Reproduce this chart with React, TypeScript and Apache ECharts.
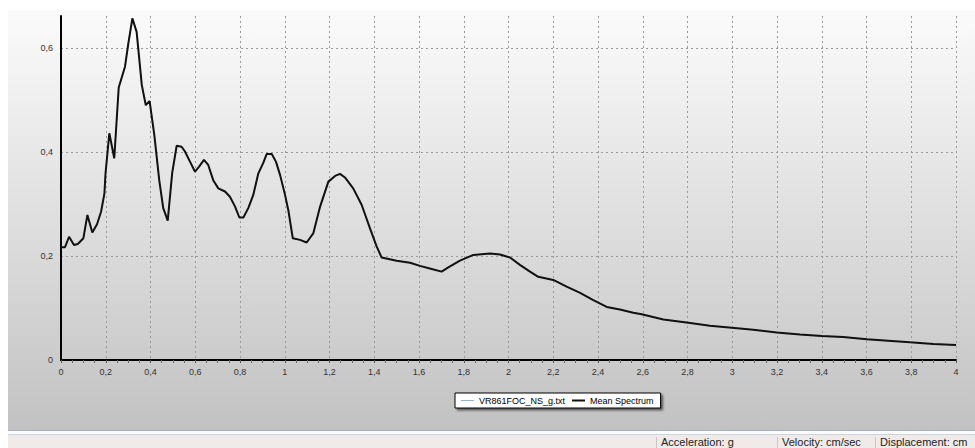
import React, { useEffect, useRef } from "react";
import * as echarts from "echarts";

// Period (s) sampled along the curve
const periods = [
  0, 0.018, 0.036, 0.058, 0.075, 0.1, 0.118, 0.14, 0.161, 0.179, 0.194, 0.199,
  0.216, 0.238, 0.258, 0.286, 0.301, 0.319, 0.338, 0.361, 0.379, 0.396, 0.417,
  0.439, 0.457, 0.477, 0.497, 0.517, 0.539, 0.554, 0.577, 0.599, 0.617, 0.639,
  0.658, 0.681, 0.703, 0.733, 0.755, 0.778, 0.797, 0.815, 0.837, 0.859, 0.882,
  0.904, 0.919, 0.942, 0.961, 0.979, 1.001, 1.016, 1.036, 1.068, 1.098, 1.128,
  1.158, 1.195, 1.225, 1.247, 1.269, 1.306, 1.344, 1.381, 1.411, 1.433, 1.5,
  1.56, 1.604, 1.657, 1.701, 1.731, 1.783, 1.843, 1.917, 1.962, 2.007, 2.051,
  2.096, 2.133, 2.2, 2.26, 2.32, 2.379, 2.439, 2.498, 2.558, 2.595, 2.692,
  2.796, 2.9, 2.998, 3.094, 3.199, 3.303, 3.4, 3.496, 3.601, 3.697, 3.794,
  3.899, 4.0,
];

// Mean spectrum acceleration (g)
const meanSpectrum = [
  0.217, 0.217, 0.237, 0.221, 0.223, 0.234, 0.279, 0.245, 0.261, 0.285, 0.32,
  0.359, 0.436, 0.388, 0.524, 0.564, 0.609, 0.657, 0.631, 0.529, 0.49, 0.498,
  0.433, 0.346, 0.292, 0.268, 0.36, 0.412, 0.41, 0.401, 0.381, 0.362, 0.372,
  0.385, 0.375, 0.345, 0.33, 0.324, 0.314, 0.295, 0.274, 0.274, 0.292, 0.317,
  0.359, 0.379, 0.396, 0.396, 0.381, 0.356, 0.318, 0.288, 0.234, 0.231, 0.226,
  0.244, 0.295, 0.343, 0.354, 0.358, 0.351, 0.33, 0.298, 0.253, 0.218, 0.197,
  0.191, 0.187, 0.181, 0.175, 0.17, 0.178, 0.191, 0.202, 0.205, 0.203, 0.197,
  0.183, 0.17, 0.16, 0.154, 0.141, 0.129, 0.115, 0.102, 0.097, 0.091, 0.088,
  0.078, 0.072, 0.066, 0.062, 0.058, 0.053, 0.049, 0.046, 0.044, 0.04, 0.037,
  0.034, 0.031, 0.029,
];

// Single record (drawn beneath the mean, identical here)
const recordSpectrum = meanSpectrum.slice();

const seriesNames = ["VR861FOC_NS_g.txt", "Mean Spectrum"];
const statusTexts = ["Acceleration: g", "Velocity: cm/sec", "Displacement: cm"];

const fmt = (v: number) => String(+v.toFixed(1)).replace(".", ",");

export default function App() {
  const ref = useRef<HTMLDivElement>(null);

  useEffect(() => {
    if (!ref.current) return;
    const chart = echarts.init(ref.current, undefined, { renderer: "svg" });
    const toPairs = (ys: number[]) => periods.map((x, i) => [x, ys[i]]);
    const statusX = [661, 782, 880];
    const sepX = [656.5, 777.5, 875.5];

    chart.setOption({
      animation: false,
      backgroundColor: "#ffffff",
      textStyle: { fontFamily: "Liberation Sans, Arial, sans-serif" },
      grid: { left: 61, right: 19, top: 16, bottom: 88, containLabel: false },
      legend: {
        left: 455,
        top: 393,
        data: [
          { name: seriesNames[0], icon: "path://M0,0h13v1h-13z" },
          { name: seriesNames[1], icon: "path://M0,0h13v2h-13z" },
        ],
        symbolKeepAspect: true,
        itemWidth: 13,
        itemHeight: 8,
        itemGap: 7,
        padding: [3, 7, 3, 6],
        backgroundColor: "#ffffff",
        borderColor: "#000000",
        borderWidth: 1,
        borderRadius: 0,
        shadowColor: "rgba(0,0,0,0.55)",
        shadowBlur: 2,
        shadowOffsetX: 2,
        shadowOffsetY: 2,
        textStyle: {
          fontSize: 9,
          color: "#000",
          fontFamily: "Liberation Sans, Arial, sans-serif",
        },
      },
      xAxis: {
        type: "value",
        min: 0,
        max: 4,
        interval: 0.2,
        axisLine: { show: true, lineStyle: { color: "#000", width: 2 } },
        axisTick: { show: true, length: 3, lineStyle: { color: "#555" } },
        minorTick: { show: true, splitNumber: 4, length: 3, lineStyle: { color: "#666" } },
        axisLabel: {
          formatter: fmt,
          fontSize: 9,
          color: "#333",
          margin: 7,
        },
        splitLine: {
          show: true,
          lineStyle: { color: "#9a9a9a", type: [2, 3], width: 1 },
        },
      },
      yAxis: {
        type: "value",
        min: 0,
        max: 0.6615,
        interval: 0.2,
        offset: 2,
        axisLine: { show: true, lineStyle: { color: "#000", width: 2 } },
        axisTick: { show: false },
        axisLabel: {
          formatter: fmt,
          fontSize: 9,
          color: "#333",
          margin: 6,
          showMaxLabel: false,
        },
        splitLine: {
          show: true,
          showMaxLine: false,
          lineStyle: { color: "#9a9a9a", type: [2, 3], width: 1 },
        },
      },
      series: [
        {
          name: seriesNames[0],
          type: "line",
          data: toPairs(recordSpectrum),
          symbol: "none",
          lineStyle: { color: "#8fb2d6", width: 1 },
          itemStyle: { color: "#8fb2d6" },
          z: 2,
        },
        {
          name: seriesNames[1],
          type: "line",
          data: toPairs(meanSpectrum),
          symbol: "none",
          lineStyle: { color: "#111", width: 2 },
          itemStyle: { color: "#111" },
          z: 3,
        },
      ],
      graphic: [
        {
          type: "rect",
          z: -10,
          silent: true,
          shape: { x: 8, y: 10, width: 967, height: 420 },
          style: {
            fill: new echarts.graphic.LinearGradient(0, 0, 0, 1, [
              { offset: 0, color: "#fbfbfb" },
              { offset: 1, color: "#c2c2c2" },
            ]),
          },
        },
        { type: "rect", z: -10, silent: true, shape: { x: 8, y: 430, width: 967, height: 1 }, style: { fill: "#a7b0ba" } },
        { type: "rect", z: -10, silent: true, shape: { x: 8, y: 431, width: 967, height: 3 }, style: { fill: "#fbfcfd" } },
        { type: "rect", z: -10, silent: true, shape: { x: 8, y: 434, width: 967, height: 1 }, style: { fill: "#cdd5dc" } },
        { type: "rect", z: -10, silent: true, shape: { x: 8, y: 435, width: 967, height: 13 }, style: { fill: "#f0ebe9" } },
        ...sepX.map((x) => ({
          type: "line",
          silent: true,
          shape: { x1: x, y1: 437, x2: x, y2: 448 },
          style: { stroke: "#c9c6c4", lineWidth: 1 },
        })),
        ...statusTexts.map((t, i) => ({
          type: "text",
          silent: true,
          x: statusX[i],
          y: 441.5,
          style: {
            text: t,
            fill: "#222",
            font: "11px 'Liberation Sans', Arial, sans-serif",
            textVerticalAlign: "middle",
            verticalAlign: "middle",
          },
        })),
      ],
    });
    return () => chart.dispose();
  }, []);

  return (
    <div
      ref={ref}
      style={{ position: "absolute", left: 0, top: 0, width: 975, height: 448 }}
    />
  );
}
